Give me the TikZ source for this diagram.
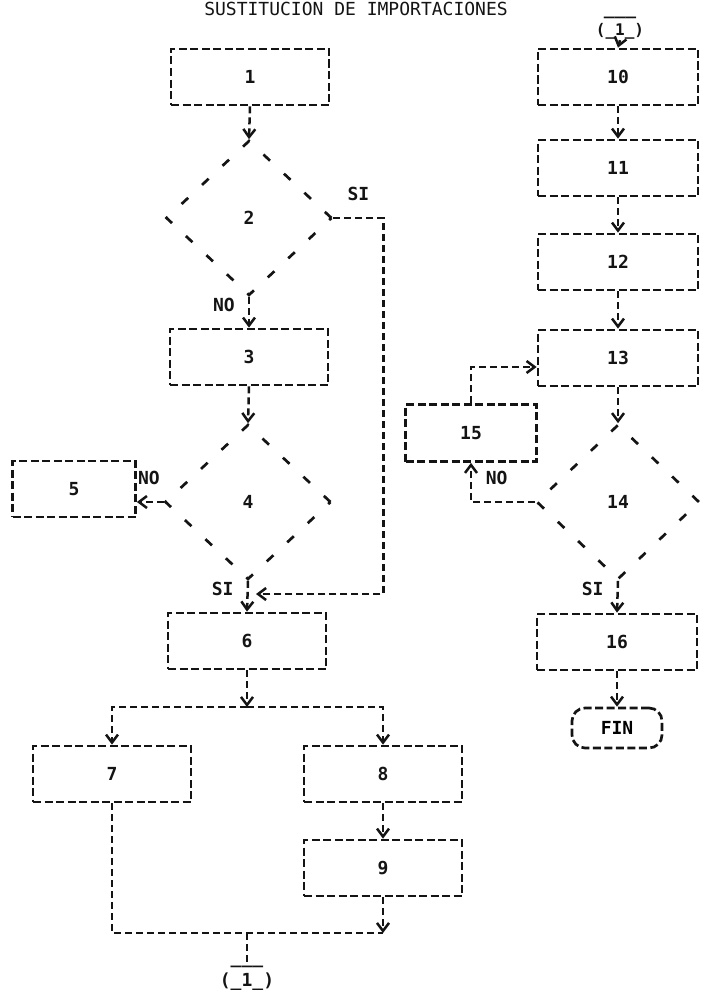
\documentclass[tikz,border=0pt]{standalone}
\usepackage{fontspec}
\setmonofont{DejaVu Sans Mono}
\usetikzlibrary{arrows.meta, positioning, shapes.geometric}
\definecolor{PrintBlack}{rgb}{0.08, 0.08, 0.08}

\begin{document}
\begin{tikzpicture}[
    x=1pt, y=-1pt,
    font=\ttfamily\bfseries\fontsize{18}{18}\selectfont,
    caja/.style={draw=PrintBlack, line width=2.7pt, dash pattern=on 8pt off 3.5pt,
        minimum width=158pt, minimum height=56pt, inner sep=0pt, text=PrintBlack},
    rombo/.style={diamond, draw=PrintBlack, line width=2.7pt, dash pattern=on 9pt off 19pt,
        minimum width=166pt, minimum height=155pt, inner sep=0pt, text=PrintBlack},
    fin/.style={draw=PrintBlack, line width=2.7pt, dash pattern=on 8pt off 3.5pt,
        rounded corners=13pt, minimum width=90pt, minimum height=40pt, inner sep=0pt},
    conector/.style={inner sep=1pt, text=PrintBlack},
    flujo/.style={-{Straight Barb[length=8pt, width=12pt]}, line width=2.5pt,
        dash pattern=on 7pt off 4pt, PrintBlack},
    linea/.style={line width=2.5pt, dash pattern=on 7pt off 4pt, PrintBlack},
    lbl/.style={text=PrintBlack, inner sep=0pt},
]
\useasboundingbox (0,0) rectangle (701,990);

% titulo
\node[font=\ttfamily\mdseries\fontsize{18}{18}\selectfont, text=PrintBlack] (titulo) at (356,9)
    {SUSTITUCION DE IMPORTACIONES};

% ============ COLUMNA IZQUIERDA ============
\node[caja] (b1) at (250,77) {1};
\node[rombo] (d2) at (249,218) {2};
\node[caja] (b3) at (249,357) {3};
\node[rombo] (d4) at (248,502) {4};
\node[caja, minimum width=123pt] (b5) at (74,489) {5};
\node[caja] (b6) at (247,641) {6};
\node[caja] (b7) at (112,774) {7};
\node[caja] (b8) at (383,774) {8};
\node[caja] (b9) at (383,868) {9};
\node[conector, label={[lbl, name=c1aTop, yshift=4pt]above:\_\_\_}] (c1a) at (247,982) {(\_1\_)};

\coordinate (j0) at (256,594);
\coordinate (j1) at (247,707);
\coordinate (j2) at (383,933);
\coordinate (j3) at (247,933);

\draw[flujo] (b1.south) -- (d2.north);
\draw[flujo] (d2.south) -- node[lbl, left=13pt, pos=0.25] {NO} (b3.north);
\draw[flujo] (d2.east) -- node[lbl, above=16pt] {SI} ++(50,0) |- (j0);
\draw[flujo] (b3.south) -- (d4.north);
\draw[flujo] (d4.west) -- node[lbl, above=16pt, pos=0.55] {NO} (b5.east |- d4.west);
\draw[flujo] (d4.south) -- node[lbl, left=13pt, pos=0.25] {SI} (b6.north);
\draw[flujo] (b6.south) -- (j1);
\draw[flujo] (j1) -| (b7.north);
\draw[flujo] (j1) -| (b8.north);
\draw[flujo] (b8.south) -- (b9.north);
\draw[flujo] (b9.south) -- (j2);
\draw[linea] (b7.south) |- (j2);
\draw[linea] (j3) -- (c1aTop.north);

% ============ COLUMNA DERECHA ============
\node[conector, font=\ttfamily\bfseries\fontsize{16}{16}\selectfont,
      label={[lbl, yshift=3pt]above:\_\_\_}] (c1b) at (620,31) {(\_1\_)};
\node[caja, minimum width=160pt] (b10) at (618,77) {10};
\node[caja, minimum width=160pt] (b11) at (618,168) {11};
\node[caja, minimum width=160pt] (b12) at (618,262) {12};
\node[caja, minimum width=160pt] (b13) at (618,358) {13};
\node[rombo, minimum width=163pt] (d14) at (618,502) {14};
\node[caja, minimum width=131pt, minimum height=57pt] (b15) at (471,433) {15};
\node[caja, minimum width=160pt] (b16) at (617,642) {16};
\node[fin] (fin) at (617,728) {FIN};

\draw[flujo] (c1b.south) -- (b10.north);
\draw[flujo] (b10.south) -- (b11.north);
\draw[flujo] (b11.south) -- (b12.north);
\draw[flujo] (b12.south) -- (b13.north);
\draw[flujo] (b13.south) -- (d14.north);
\draw[flujo] (d14.west) -| node[lbl, above=16pt, pos=0.3] {NO} (b15.south);
\draw[flujo] (b15.north) |- ([yshift=-9pt]b13.west);
\draw[flujo] (d14.south) -- node[lbl, left=13pt, pos=0.25] {SI} (b16.north);
\draw[flujo] (b16.south) -- (fin.north);

\end{tikzpicture}
\end{document}
